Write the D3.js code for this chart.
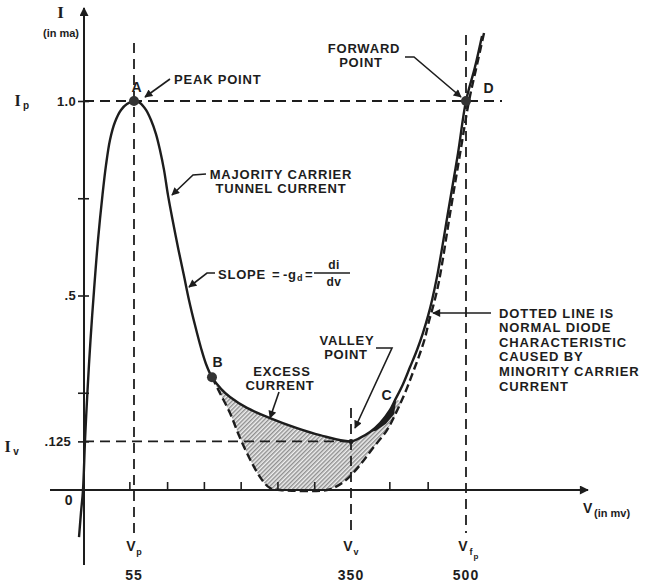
<!DOCTYPE html>
<html><head><meta charset="utf-8">
<script src="https://cdn.jsdelivr.net/npm/d3@7"></script>
<style>body{margin:0;background:#fff} svg{display:block}</style>
</head><body><svg id="c" width="646" height="583"></svg>
<script>
// ---- data (V in mV, I in mA) ----
const tunnelCurve = [
  [-4.3,-0.121],[-2.2,-0.059],[0,0],[2.2,0.129],[4.9,0.257],[8.1,0.386],[11.9,0.514],[16.2,0.643],
  [21.0,0.758],[24.8,0.835],[29.1,0.900],[34.5,0.946],[41.0,0.977],[47.4,0.992],[55,1.0],
  [63.2,0.995],[71.3,0.977],[78.1,0.951],[84.9,0.915],[90.3,0.874],[95.8,0.823],[101.2,0.758],
  [108.0,0.689],[115.5,0.617],[123.0,0.550],[129.8,0.488],[137.9,0.424],[146.1,0.365],[152.9,0.324],
  [161,0.290],[173.3,0.260],[185.5,0.239],[208.6,0.211],[239.9,0.185],[276.6,0.159],[307.8,0.141],
  [350,0.125],[361.7,0.134],[374.8,0.149],[387.9,0.172],[400.9,0.206],[407.4,0.231],
  [417.8,0.272],[427.0,0.316],[436.1,0.360],[443.9,0.404],[450.4,0.447],[455.7,0.488],[462.2,0.548],
  [477.8,0.728],[489.6,0.866],[500,1.0],[511.7,1.087],[520.9,1.167]
];
const diodeCurve = [
  [161,0.290],[171.9,0.249],[185.5,0.198],[199.1,0.134],[215.4,0.069],[229,0.026],[239.9,0.005],
  [253.5,0],[317.4,0],[331,0.010],[344.6,0.028],[361.7,0.064],[378.7,0.108],[397,0.154],[407.4,0.193],
  [415.2,0.226],[423.0,0.262],[430.9,0.303],[438.7,0.344],[446.5,0.391],[451.7,0.434],[458.3,0.481],
  [464.8,0.537],[480.4,0.725],[492.2,0.864],[503.9,1.0],[514.3,1.093],[523.5,1.175]
];
const wedgeLowerEdge = [[408.7,0.226],[406.1,0.195],[395.7,0.170],[382.6,0.152]];
const keyPoints = [{id:"A",v:55,i:1.0},{id:"B",v:161,i:0.290},{id:"D",v:500,i:1.0}];
const valleyPoint = {v:350,i:0.125};
const yTickValues = [0.125,0.25,0.5,0.75,1.0];
const yLabelValues = [1.0,0.5,0.125];
const yLabelTexts = ["1.0",".5",".125"];
const xMinorTicks = [50,100,150,200,250,300,400,450];
const xMarkValues = [55,350,500];
const xMarkSubs = ["p","v","f"];
const xMarkLabels = ["55","350","500"];
const noteLines = ["DOTTED LINE IS","NORMAL DIODE","CHARACTERISTIC","CAUSED BY","MINORITY CARRIER","CURRENT"];

// ---- drawing ----
const INK = "#1d1d1d";
const SANS = "'Liberation Sans', Arial, sans-serif";
const SERIF = "'Liberation Serif', 'DejaVu Serif', serif";
const svg = d3.select("#c");
const x = d3.scaleLinear().domain([0,55,350,500]).range([83,134,351,466]);
const y = d3.scaleLinear().domain([0,1]).range([490,101]);

const defs = svg.append("defs");
defs.append("marker").attr("id","arr").attr("viewBox","0 0 10 10").attr("refX",9).attr("refY",5)
  .attr("markerUnits","userSpaceOnUse").attr("markerWidth",10).attr("markerHeight",8).attr("orient","auto")
  .append("path").attr("d","M0,0 L10,5 L0,10 z").attr("fill",INK);
defs.append("marker").attr("id","axarr").attr("viewBox","0 0 10 10").attr("refX",9).attr("refY",5)
  .attr("markerUnits","userSpaceOnUse").attr("markerWidth",12).attr("markerHeight",9).attr("orient","auto")
  .append("path").attr("d","M0,0 L10,5 L0,10 z").attr("fill",INK);
const pat = defs.append("pattern").attr("id","hatch").attr("patternUnits","userSpaceOnUse")
  .attr("width",3).attr("height",10).attr("patternTransform","rotate(45)");
pat.append("rect").attr("width",3).attr("height",10).attr("fill","#efefef");
pat.append("line").attr("x1",0.8).attr("y1",0).attr("x2",0.8).attr("y2",10).attr("stroke","#666").attr("stroke-width",1);

const line = d3.line().x(d=>x(d[0])).y(d=>y(d[1])).curve(d3.curveCatmullRom.alpha(0.5));

// hatched excess-current region: tunnel curve B..C, then normal diode curve back to B
const upper = tunnelCurve.filter(d=>d[0]>=161 && d[0]<=407.4);
const lower = diodeCurve.filter(d=>d[0]<=415.2).slice().reverse();
svg.append("path").attr("d", line(upper.concat(lower))+"Z").attr("fill","url(#hatch)").attr("stroke","none");

// dashed reference lines
const ref = svg.append("g").attr("stroke",INK).attr("stroke-width",1.8).attr("stroke-dasharray","10,6").attr("fill","none");
ref.append("line").attr("x1",x(0)+1).attr("x2",502).attr("y1",y(1)).attr("y2",y(1));
ref.append("line").attr("x1",x(0)+1).attr("x2",x(350)).attr("y1",y(0.125)).attr("y2",y(0.125));
ref.append("line").attr("x1",x(55)).attr("x2",x(55)).attr("y1",43).attr("y2",537);
ref.append("line").attr("x1",x(350)).attr("x2",x(350)).attr("y1",408).attr("y2",533);
ref.append("line").attr("x1",x(500)).attr("x2",x(500)).attr("y1",35).attr("y2",533);

// axes
const ya = svg.append("g").attr("transform",`translate(${x(0)+1},0)`)
  .call(d3.axisLeft(y).tickValues(yTickValues).tickFormat("").tickSize(6).tickSizeOuter(0));
ya.select(".domain").remove();
ya.selectAll(".tick line").attr("x1",5).attr("stroke",INK).attr("stroke-width",1.6);
const xa = svg.append("g").attr("transform",`translate(0,${y(0)})`)
  .call(d3.axisTop(x).tickValues(xMinorTicks).tickFormat("").tickSize(8).tickSizeOuter(0));
xa.select(".domain").remove();
xa.selectAll(".tick line").attr("stroke",INK).attr("stroke-width",1.6);
svg.append("line").attr("x1",x(0)+1).attr("x2",x(0)+1).attr("y1",565).attr("y2",8)
  .attr("stroke",INK).attr("stroke-width",2).attr("marker-end","url(#axarr)");
svg.append("line").attr("x1",50).attr("x2",588).attr("y1",y(0)).attr("y2",y(0))
  .attr("stroke",INK).attr("stroke-width",2).attr("marker-end","url(#axarr)");

// curves
svg.append("path").attr("d",line(diodeCurve)).attr("fill","none").attr("stroke",INK)
  .attr("stroke-width",2.4).attr("stroke-dasharray","8,4");
svg.append("path").attr("d",line(tunnelCurve)).attr("fill","none").attr("stroke",INK).attr("stroke-width",2.4);
const wedge = tunnelCurve.filter(d=>d[0]>=374 && d[0]<=407.4).concat(wedgeLowerEdge);
svg.append("path").attr("d",d3.line().x(d=>x(d[0])).y(d=>y(d[1]))(wedge)+"Z").attr("fill",INK);

// points
svg.selectAll("circle.kp").data(keyPoints).join("circle").attr("class","kp")
  .attr("cx",d=>x(d.v)).attr("cy",d=>y(d.i)).attr("r",5).attr("fill","#333");
svg.append("circle").attr("cx",x(valleyPoint.v)).attr("cy",y(valleyPoint.i)).attr("r",2.5).attr("fill",INK);

// text helper (yc = vertical centre of capitals)
function txt(px, yc, s, size, anchor, opts={}) {
  return svg.append("text").attr("x",px).attr("y",yc+0.36*size).text(s)
    .attr("font-family",opts.family||SANS).attr("font-size",size).attr("font-weight",opts.weight||"bold")
    .attr("text-anchor",anchor||"start").attr("letter-spacing",opts.ls==null?0.8:opts.ls).attr("fill",INK);
}
// y labels
txt(61,12,"I",17,"middle",{family:SERIF});
txt(61,33,"(in ma)",11,"middle",{ls:0});
txt(18,100,"I",16,"middle",{family:SERIF}); txt(26,105,"p",10,"middle",{ls:0});
txt(8,446,"I",16,"middle",{family:SERIF}); txt(16,451,"v",10,"middle",{ls:0});
yLabelValues.forEach((v,k)=>{ txt(v===0.125?71:76, y(v), yLabelTexts[k], 13, "end", {ls:0.3}); });
txt(69,500,"0",14,"middle");
// x labels
xMarkValues.forEach((v,k)=>{
  const cx = x(v);
  txt(cx-3,546,"V",14,"middle",{ls:0});
  txt(cx+5,552,xMarkSubs[k],9,"middle",{ls:0});
  if (xMarkSubs[k]==="f") txt(cx+10,556,"p",8,"middle",{ls:0});
  txt(cx,575,xMarkLabels[k],14,"middle",{ls:1});
});
txt(583,508,"V",14,"start",{ls:0});
txt(594,513,"(in mv)",11,"start",{ls:0});

// point letters
txt(137,87,"A",14,"middle");
txt(218,362,"B",14,"middle");
txt(387,395,"C",14,"middle");
txt(489,88,"D",14,"middle");

// annotations
txt(174,79,"PEAK POINT",13,"start");
txt(281,174,"MAJORITY CARRIER",13,"middle");
txt(281,188,"TUNNEL CURRENT",13,"middle");
txt(218,274,"SLOPE",13,"start");
txt(272,274,"=",13,"start",{ls:0});
txt(283,274,"-",13,"start",{ls:0});
txt(288,274,"g",13,"start",{ls:0});
txt(297,278,"d",9,"start",{ls:0});
txt(305,274,"=",13,"start",{ls:0});
svg.append("line").attr("x1",314).attr("x2",350).attr("y1",273).attr("y2",273).attr("stroke",INK).attr("stroke-width",1.4);
txt(334,265,"di",12,"middle",{ls:0.5});
txt(334,282,"dv",12,"middle",{ls:0.5});
txt(282,371,"EXCESS",13,"middle");
txt(280,385,"CURRENT",13,"middle");
txt(347,340,"VALLEY",13,"middle");
txt(346,354,"POINT",13,"middle");
txt(364,48,"FORWARD",13,"middle");
txt(361,62,"POINT",13,"middle");
noteLines.forEach((s,k)=>txt(499,313+k*14.6,s,13,"start",{ls:0.9}));

// leaders with arrows
const lead = d3.line();
function leader(pts){ svg.append("path").attr("d",lead(pts)).attr("fill","none").attr("stroke",INK)
  .attr("stroke-width",1.6).attr("marker-end","url(#arr)"); }
leader([[170,79],[145,97]]);
leader([[206,174],[193,175],[172,195]]);
leader([[215,273],[207,273],[189,287]]);
leader([[279,392],[270,418]]);
leader([[376,348],[392,348],[355,428]]);
leader([[405,57],[414,57],[461,97]]);
leader([[491,313],[433,313]]);
</script></body></html>
